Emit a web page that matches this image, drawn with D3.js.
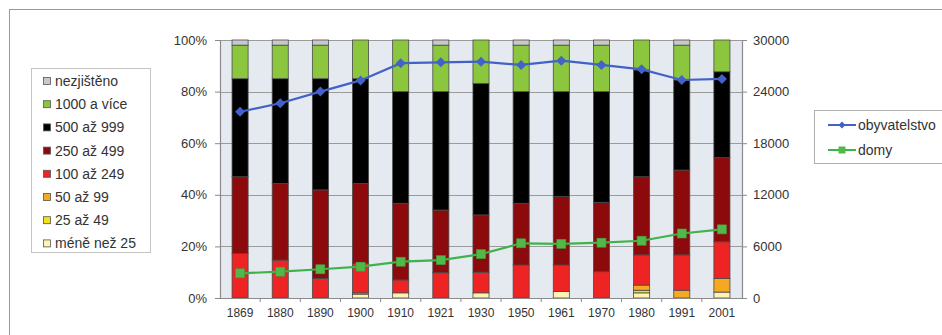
<!DOCTYPE html>
<html>
<head>
<meta charset="utf-8">
<script src="https://cdn.jsdelivr.net/npm/d3@7/dist/d3.min.js"></script>
<style>
  html, body { margin: 0; padding: 0; background: #fff; }
  svg { display: block; font-family: "Liberation Sans", Arial, sans-serif; }
</style>
</head>
<body>
<svg id="chart" width="942" height="335"></svg>
<script>
// Census years
const years = ["1869", "1880", "1890", "1900", "1910", "1921", "1930", "1950", "1961", "1970", "1980", "1991", "2001"];

// Size classes of settlements (bottom to top of each stacked bar)
const classes = ["méně než 25", "25 až 49", "50 až 99", "100 až 249", "250 až 499", "500 až 999", "1000 a více", "nezjištěno"];

// Share (%) of each size class per census year
const meneNez25 = [0, 0, 0, 1.5, 2, 0, 2, 0, 2.5, 0, 2, 0, 2.3];
const od25do49  = [0, 0, 0, 0, 0, 0, 0, 0, 0, 0, 1, 0, 0];
const od50do99  = [0, 0, 0, 0.5, 0, 0, 0, 0, 0, 0, 2, 3, 5.3];
const od100do249 = [17.3, 14.7, 7.6, 11.4, 5, 9.8, 8, 12.8, 10.3, 10.2, 11.7, 13.7, 14.2];
const od250do499 = [29.7, 29.7, 34.3, 31, 29.7, 24.3, 22.2, 23.9, 26.5, 26.9, 30.3, 32.9, 32.6];
const od500do999 = [38, 40.6, 43.1, 40.6, 43.3, 45.9, 51, 43.3, 40.7, 42.9, 41.4, 34.9, 33.3];
const nad1000   = [13, 13, 13, 15, 20, 18, 16.8, 18, 18, 18, 11.6, 13.5, 12.3];
const nezjisteno = [2, 2, 2, 0, 0, 2, 0, 2, 2, 2, 0, 2, 0];

// Population and number of houses (right axis)
const obyvatelstvo = [21660, 22650, 24000, 25300, 27300, 27400, 27480, 27100, 27600, 27100, 26590, 25350, 25470];
const domy = [2870, 3060, 3340, 3640, 4220, 4400, 5100, 6360, 6300, 6430, 6660, 7500, 7980];

// Axis ticks
const leftTicks = [0, 20, 40, 60, 80, 100];
const rightTicks = [0, 6000, 12000, 18000, 24000, 30000];

const classColors = ["#fff3b3", "#f2e21a", "#f5a921", "#ee2424", "#8c0a0c", "#000000", "#8cc63e", "#c9c9c9"];
const classValues = [meneNez25, od25do49, od50do99, od100do249, od250do499, od500do999, nad1000, nezjisteno];

const svg = d3.select("#chart");
const fontCol = "#333";

// outer frame
svg.append("rect").attr("x", 9.5).attr("y", 9.5).attr("width", 940).attr("height", 340)
  .attr("fill", "none").attr("stroke", "#9a9a9a").attr("stroke-width", 1);

const plot = { left: 220, right: 742, top: 40, bottom: 298 };

const x = d3.scaleBand().domain(years).range([plot.left, plot.right]).paddingInner(0.6).paddingOuter(0.3);
const yL = d3.scaleLinear().domain([0, 100]).range([plot.bottom, plot.top]);
const yR = d3.scaleLinear().domain([0, 30000]).range([plot.bottom, plot.top]);

// plot background
svg.append("rect").attr("x", plot.left).attr("y", plot.top)
  .attr("width", plot.right - plot.left).attr("height", plot.bottom - plot.top)
  .attr("fill", "#e5eaf0");

// gridlines
svg.append("g").selectAll("line").data(leftTicks.filter(d => d > 0)).join("line")
  .attr("x1", plot.left).attr("x2", plot.right)
  .attr("y1", d => Math.round(yL(d)) + 0.5).attr("y2", d => Math.round(yL(d)) + 0.5)
  .attr("stroke", "#9b9b9b").attr("stroke-width", 1.2);

// stacked bars
const rows = years.map((yr, i) => {
  const r = { year: yr };
  classes.forEach((c, k) => r[c] = classValues[k][i]);
  return r;
});
const stacked = d3.stack().keys(classes)(rows);

const barG = svg.append("g");
stacked.forEach((layer, k) => {
  barG.append("g").attr("fill", classColors[k])
    .selectAll("rect").data(layer.filter(d => d[1] - d[0] > 0)).join("rect")
    .attr("x", d => x(d.data.year))
    .attr("width", x.bandwidth())
    .attr("y", d => yL(d[1]))
    .attr("height", d => yL(d[0]) - yL(d[1]))
    .attr("stroke", "#4a4a4a").attr("stroke-width", 0.8);
});

// axes
const axL = svg.append("g").attr("transform", `translate(${plot.left},0)`)
  .call(d3.axisLeft(yL).tickValues(leftTicks).tickFormat(d => d + "%").tickSize(5).tickPadding(8));
const axR = svg.append("g").attr("transform", `translate(${plot.right},0)`)
  .call(d3.axisRight(yR).tickValues(rightTicks).tickFormat(d => d).tickSize(5).tickPadding(6));
const axB = svg.append("g").attr("transform", `translate(0,${plot.bottom})`)
  .call(d3.axisBottom(x).tickSize(0).tickPadding(10));

[axL, axR, axB].forEach(a => {
  a.select(".domain").attr("stroke", "#8a8a8a").attr("stroke-width", 1.2);
  a.selectAll(".tick line").attr("stroke", "#8a8a8a");
  a.selectAll("text").attr("fill", fontCol)
    .attr("font-family", "'Liberation Sans', Arial, sans-serif");
});
axL.selectAll("text").attr("font-size", 13);
axR.selectAll("text").attr("font-size", 13);
axB.selectAll("text").attr("font-size", 12);
axB.select(".domain").attr("d", `M${plot.left},0.5H${plot.right}`);

// small category separators on the bottom axis
const gap = x.step() - x.bandwidth();
svg.append("g").selectAll("line").data(years.slice(1)).join("line")
  .attr("x1", d => x(d) - gap / 2).attr("x2", d => x(d) - gap / 2)
  .attr("y1", plot.bottom).attr("y2", plot.bottom + 4)
  .attr("stroke", "#8a8a8a");

// lines
const cx = d => x(d) + x.bandwidth() / 2;
const lineBlue = "#4262c8", lineGreen = "#3db34a";
const diamond = r => `M0,${-r}L${r},0L0,${r}L${-r},0Z`;

const seriesLine = d3.line().x((d, i) => cx(years[i])).y(d => yR(d));
svg.append("path").datum(obyvatelstvo).attr("d", seriesLine)
  .attr("fill", "none").attr("stroke", lineBlue).attr("stroke-width", 2.2);
svg.append("g").selectAll("path").data(obyvatelstvo).join("path")
  .attr("d", diamond(5))
  .attr("transform", (d, i) => `translate(${cx(years[i])},${yR(d)})`)
  .attr("fill", lineBlue);

svg.append("path").datum(domy).attr("d", seriesLine)
  .attr("fill", "none").attr("stroke", lineGreen).attr("stroke-width", 2.2);
svg.append("g").selectAll("rect").data(domy).join("rect")
  .attr("x", (d, i) => cx(years[i]) - 4.5).attr("y", d => yR(d) - 4.5)
  .attr("width", 9).attr("height", 9)
  .attr("fill", "#52b848").attr("stroke", "#3aa040").attr("stroke-width", 0.6);

// left legend (size classes, top entry first)
const legL = svg.append("g");
legL.append("rect").attr("x", 31.5).attr("y", 68.5).attr("width", 119).attr("height", 184)
  .attr("fill", "#fff").attr("stroke", "#c4c4c4");
const legendOrder = classes.map((c, k) => k).reverse();
legendOrder.forEach((k, j) => {
  const yy = 81 + j * 23.2;
  legL.append("rect").attr("x", 43.5).attr("y", yy - 3.5).attr("width", 7).attr("height", 7)
    .attr("fill", classColors[k]).attr("stroke", "#555").attr("stroke-width", 0.8);
  legL.append("text").attr("x", 55).attr("y", yy + 5).attr("font-size", 14)
    .attr("fill", fontCol).text(classes[k]);
});

// right legend (series)
const legR = svg.append("g");
legR.append("rect").attr("x", 814.5).attr("y", 110.5).attr("width", 135).attr("height", 53)
  .attr("fill", "#fff").attr("stroke", "#b0b0b0");
[["obyvatelstvo", lineBlue, "diamond"], ["domy", lineGreen, "square"]].forEach((s, j) => {
  const yy = 125 + j * 25;
  legR.append("line").attr("x1", 828).attr("x2", 856).attr("y1", yy).attr("y2", yy)
    .attr("stroke", s[1]).attr("stroke-width", 2);
  if (s[2] === "diamond") {
    legR.append("path").attr("d", diamond(3.5))
      .attr("transform", `translate(842,${yy})`).attr("fill", s[1]);
  } else {
    legR.append("rect").attr("x", 838.5).attr("y", yy - 3.5).attr("width", 7).attr("height", 7)
      .attr("fill", "#52b848");
  }
  legR.append("text").attr("x", 858).attr("y", yy + 5).attr("font-size", 14)
    .attr("fill", fontCol).text(s[0]);
});
</script>
</body>
</html>
